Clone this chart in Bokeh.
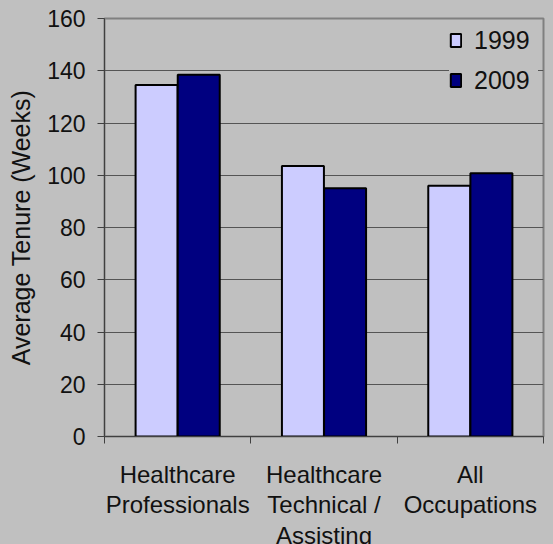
from bokeh.plotting import figure
from bokeh.models import FixedTicker, Legend, LegendItem, ColumnDataSource
from bokeh.embed import file_html
from bokeh.resources import INLINE

categories = ["Healthcare\nProfessionals", "Healthcare\nTechnical /\nAssisting", "All\nOccupations"]
years = ["1999", "2009"]
tenure_1999 = [134.5, 103.5, 96.0]
tenure_2009 = [138.5, 95.0, 100.8]
y_ticks = [0, 20, 40, 60, 80, 100, 120, 140, 160]

BG = "#c0c0c0"
FONT = "Liberation Sans"

p = figure(frame_width=439, frame_height=418, x_range=(0, 3), y_range=(0, 160),
           output_backend="svg", toolbar_location=None,
           background_fill_color=BG, border_fill_color=BG,
           min_border_left=104, min_border_right=10, min_border_top=18, min_border_bottom=100)
p.outline_line_color = "#808080"
p.outline_line_width = 2

idx = list(range(len(categories)))
bar_w = 0.287
off = 0.144
src1 = ColumnDataSource(dict(x=[i + 0.5 - off for i in idx], top=tenure_1999))
src2 = ColumnDataSource(dict(x=[i + 0.5 + off for i in idx], top=tenure_2009))
r1 = p.vbar(x="x", top="top", width=bar_w, bottom=0, source=src1,
            fill_color="#ccccff", line_color="black", line_width=2)
r2 = p.vbar(x="x", top="top", width=bar_w, bottom=0, source=src2,
            fill_color="#000080", line_color="black", line_width=2)

# grid
p.xgrid.grid_line_color = None
p.ygrid.ticker = FixedTicker(ticks=y_ticks[1:-1])
p.ygrid.grid_line_color = "#555555"
p.ygrid.grid_line_width = 1

# y axis
ya = p.yaxis[0]
ya.ticker = FixedTicker(ticks=y_ticks)
ya.axis_label = "Average Tenure (Weeks)"
ya.axis_label_text_font = FONT
ya.axis_label_text_font_size = "25px"
ya.axis_label_text_font_style = "normal"
ya.axis_label_text_color = "#111111"
ya.axis_label_standoff = 9
ya.major_label_text_font = FONT
ya.major_label_text_font_size = "23px"
ya.major_label_text_color = "#111111"
ya.major_label_standoff = 12
ya.major_tick_out = 7
ya.major_tick_in = 0
ya.minor_tick_line_color = None
ya.axis_line_color = "#404040"
ya.major_tick_line_color = "#404040"

# x axis: labels at centres, tick marks at category boundaries
xa = p.xaxis[0]
xa.ticker = FixedTicker(ticks=[i + 0.5 for i in idx], minor_ticks=[0, 1, 2, 3])
xa.major_label_overrides = {i + 0.5: c for i, c in zip(idx, categories)}
xa.major_label_text_font = FONT
xa.major_label_text_font_size = "24px"
xa.major_label_text_color = "#111111"
xa.major_label_text_line_height = 1.13
xa.major_label_standoff = 17
xa.major_tick_line_color = None
xa.major_tick_out = 0
xa.major_tick_in = 0
xa.minor_tick_line_color = "#404040"
xa.minor_tick_out = 7
xa.minor_tick_in = 0
xa.axis_line_color = "#404040"

legend = Legend(items=[LegendItem(label=years[0], renderers=[r1]),
                       LegendItem(label=years[1], renderers=[r2])],
                location="top_right")
legend.background_fill_color = BG
legend.background_fill_alpha = 1
legend.border_line_color = None
legend.label_text_font = FONT
legend.label_text_font_size = "25px"
legend.label_text_color = "#111111"
legend.glyph_width = 13
legend.glyph_height = 16
legend.label_standoff = 12
legend.label_height = 34
legend.label_width = 64
legend.spacing = 6
legend.padding = 15
legend.margin = 5
p.add_layout(legend)

html = file_html(p, INLINE, title="Average Tenure")
html = html.replace("</head>", "<style>html,body{margin:0;padding:0;overflow:hidden;background:#c0c0c0;}</style></head>", 1)
open("out.html", "w").write(html)
